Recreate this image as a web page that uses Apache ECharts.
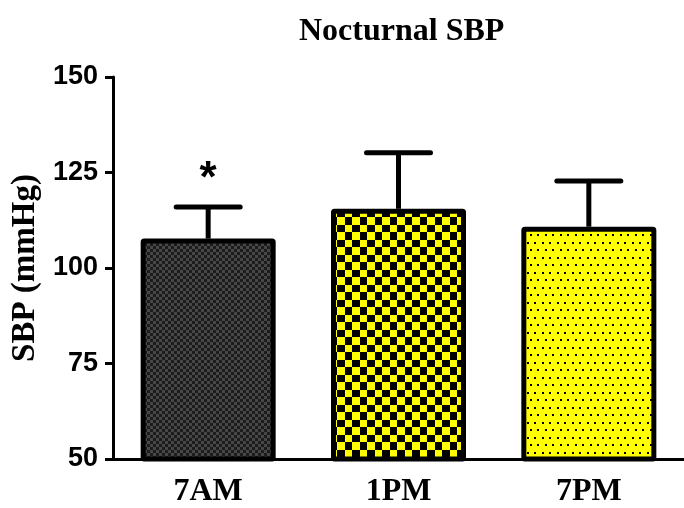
<!DOCTYPE html>
<html>
<head>
<meta charset="utf-8">
<script src="https://cdn.jsdelivr.net/npm/echarts@6/dist/echarts.min.js"></script>
<style>
  html, body { margin: 0; padding: 0; background: #fff; }
  #chart { width: 684px; height: 508px; }
</style>
</head>
<body>
<div id="chart"></div>
<script>
const categories = ['7AM', '1PM', '7PM'];
const means = [107.7, 115.5, 110.8];
const upperErr = [116, 130.2, 122.8];
const sigMarks = ['*', '', ''];

// fill patterns (GraphPad style)
function makePattern(size, draw) {
  const c = document.createElement('canvas');
  c.width = size;
  c.height = size;
  draw(c.getContext('2d'));
  return { image: c, repeat: 'repeat' };
}

const darkChecks = makePattern(6, (ctx) => {
  ctx.fillStyle = '#1c1c1c';
  ctx.fillRect(0, 0, 6, 6);
  ctx.fillStyle = '#474747';
  ctx.fillRect(0, 0, 3, 3);
  ctx.fillRect(3, 3, 3, 3);
});

const yellowChecks = makePattern(15, (ctx) => {
  ctx.fillStyle = '#000';
  ctx.fillRect(0, 0, 15, 15);
  ctx.fillStyle = '#ffff00';
  ctx.fillRect(0, 0, 7, 7);
  ctx.fillRect(7, 7, 8, 8);
});

const yellowDots = makePattern(15, (ctx) => {
  ctx.fillStyle = '#ffff00';
  ctx.fillRect(0, 0, 15, 15);
  ctx.fillStyle = '#000';
  ctx.fillRect(2, 2, 2, 2);
  ctx.fillRect(9, 2, 2, 2);
  ctx.fillRect(5, 9, 2, 2);
  ctx.fillRect(12, 9, 2, 2);
});

const fills = [darkChecks, yellowChecks, yellowDots];

const chart = echarts.init(document.getElementById('chart'));

const option = {
  backgroundColor: '#fff',
  animation: false,
  title: {
    text: 'Nocturnal SBP',
    left: 294,
    top: 11,
    textStyle: {
      fontFamily: 'Liberation Serif',
      fontWeight: 'bold',
      fontSize: 32,
      color: '#000'
    }
  },
  grid: {
    left: 113,
    top: 77,
    width: 576,
    height: 383
  },
  xAxis: {
    type: 'category',
    data: categories,
    boundaryGap: true,
    axisLine: { lineStyle: { color: '#000', width: 3 } },
    axisTick: { alignWithLabel: true, length: 10, lineStyle: { color: '#000', width: 3 } },
    axisLabel: {
      margin: 17,
      fontFamily: 'Liberation Serif',
      fontWeight: 'bold',
      fontSize: 32,
      color: '#000'
    }
  },
  yAxis: {
    type: 'value',
    min: 50,
    max: 150,
    interval: 25,
    name: 'SBP (mmHg)',
    nameLocation: 'middle',
    nameGap: 70,
    nameTextStyle: {
      fontFamily: 'Liberation Serif',
      fontWeight: 'bold',
      fontSize: 33,
      color: '#000'
    },
    splitLine: { show: false },
    axisLine: { show: true, lineStyle: { color: '#000', width: 3 } },
    axisTick: { show: true, length: 8, lineStyle: { color: '#000', width: 3 } },
    axisLabel: {
      margin: 15,
      fontFamily: 'Liberation Sans',
      fontWeight: 'bold',
      fontSize: 27,
      color: '#000'
    }
  },
  series: [
    {
      type: 'custom',
      z: 1,
      data: categories.map((c, i) => [i, means[i], upperErr[i]]),
      renderItem: (params, api) => {
        const base = api.coord([api.value(0), api.value(1)]);
        const top = api.coord([api.value(0), api.value(2)]);
        const mark = sigMarks[params.dataIndex];
        const children = [
          {
            type: 'line',
            shape: { x1: base[0], y1: base[1], x2: top[0], y2: top[1] },
            style: { stroke: '#000', lineWidth: 5 }
          },
          {
            type: 'line',
            shape: { x1: top[0] - 32, y1: top[1], x2: top[0] + 32, y2: top[1] },
            style: { stroke: '#000', lineWidth: 5, lineCap: 'round' }
          }
        ];
        if (mark) {
          children.push({
            type: 'text',
            style: {
              text: mark,
              x: top[0],
              y: top[1] - 27,
              align: 'center',
              verticalAlign: 'middle',
              font: 'bold 44px "Liberation Sans"',
              fill: '#000'
            }
          });
        }
        return { type: 'group', children };
      }
    },
    {
      type: 'bar',
      z: 2,
      barWidth: 135,
      data: means.map((v, i) => ({
        value: v,
        itemStyle: { color: fills[i] }
      })),
      itemStyle: {
        borderColor: '#000',
        borderWidth: 5,
        borderRadius: 1
      }
    }
  ]
};

chart.setOption(option);
</script>
</body>
</html>
